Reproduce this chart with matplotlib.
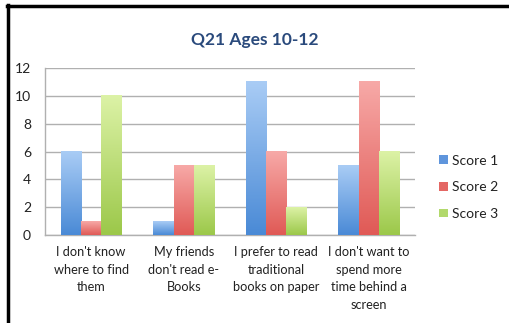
import matplotlib.pyplot as plt
import numpy as np
from matplotlib.colors import LinearSegmentedColormap
from matplotlib.patches import Patch
from matplotlib.lines import Line2D

categories = ["I don't know\nwhere to find\nthem",
              "My friends\ndon't read e-\nBooks",
              "I prefer to read\ntraditional\nbooks on paper",
              "I don't want to\nspend more\ntime behind a\nscreen"]
series_names = ["Score 1", "Score 2", "Score 3"]
score1 = [6, 1, 11, 5]
score2 = [1, 5, 6, 11]
score3 = [10, 5, 2, 6]

# top (light) / bottom (dark) colours of each series gradient
grads = [("#a9ccf5", "#4a8ad6"), ("#f7a9a7", "#e05a56"), ("#dcf2a6", "#9cc84a")]
solid = ["#5f95dc", "#e46764", "#b2d96c"]

plt.rcParams['font.family'] = ['Lato', 'DejaVu Sans']
fig = plt.figure(figsize=(5.1, 3.23), dpi=100)
ax = fig.add_axes([0.088, 0.272, 0.726, 0.517])

x = np.arange(len(categories))
w = 0.22
for i, vals in enumerate([score1, score2, score3]):
    cmap = LinearSegmentedColormap.from_list("g%d" % i, [grads[i][1], grads[i][0]])
    for xi, v in zip(x + (i - 1) * w, vals):
        grad = np.linspace(0, 1, 100).reshape(-1, 1)
        ax.imshow(grad, extent=[xi - w / 2, xi + w / 2, 0, v], origin='lower',
                  aspect='auto', cmap=cmap, zorder=3)

ax.set_xlim(-0.5, 3.5)
ax.set_ylim(0, 12)
ax.set_yticks(range(0, 13, 2))
ax.set_xticks(x)
ax.set_xticklabels(categories, fontsize=9.2, color="#222222", linespacing=1.55)
ax.tick_params(axis='y', labelsize=10, colors="#222222", length=0, pad=10)
ax.tick_params(axis='x', length=0, pad=8)
ax.grid(axis='y', color="#b0b0b0", linewidth=1, zorder=0)
for s in ['top', 'right']:
    ax.spines[s].set_visible(False)
for s in ['left', 'bottom']:
    ax.spines[s].set_color("#b0b0b0")
    ax.spines[s].set_linewidth(1)

handles = [Patch(facecolor=c, edgecolor='none') for c in solid]
fig.legend(handles, series_names, loc='center left', bbox_to_anchor=(0.837, 0.42),
           frameon=False, fontsize=10, handlelength=0.6, handleheight=0.6,
           handletextpad=0.3, labelspacing=1.05, labelcolor="#222222")

fig.text(0.5, 0.876, "Q21 Ages 10-12", ha='center', va='center', fontsize=12.5,
         fontweight='bold', color="#2a4a7c")

# black border of the screenshot on left and top
fig.add_artist(Line2D([0.016, 0.016], [0, 0.985], color='black', linewidth=2.5))
fig.add_artist(Line2D([0.014, 1.0], [0.981, 0.981], color='black', linewidth=2.5))

fig.savefig("out.png", dpi=100)
